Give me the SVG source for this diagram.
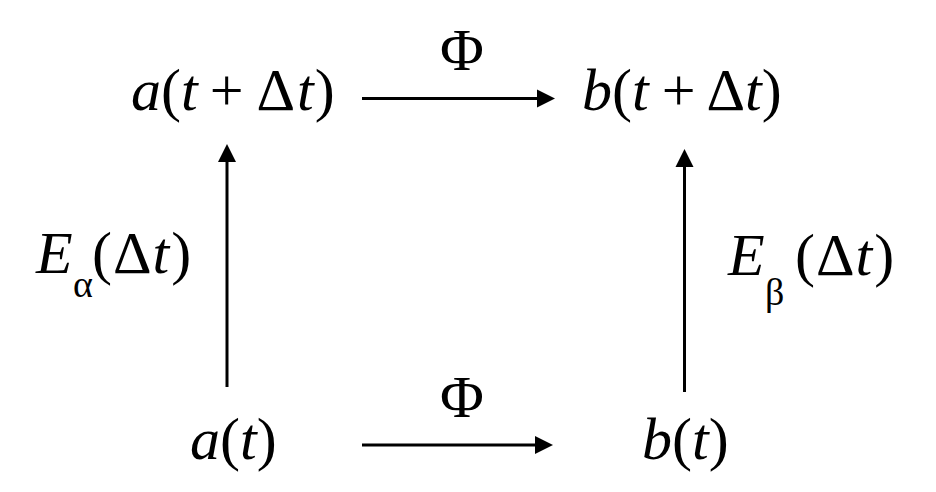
<svg xmlns="http://www.w3.org/2000/svg" width="936" height="492" viewBox="0 0 936 492">
<defs>
  <marker id="ah" markerUnits="userSpaceOnUse" markerWidth="20" markerHeight="20" refX="0" refY="9" orient="auto" viewBox="0 0 20 18">
    <path d="M0,0 L18,9 L0,18 z" fill="#000"/>
  </marker>
</defs>
<rect width="936" height="492" fill="#fff"/>
<g id="connectors" stroke="#000" stroke-width="3" fill="none">
  <line x1="362" y1="98.5" x2="537" y2="98.5" marker-end="url(#ah)"/>
  <line x1="362" y1="445" x2="535" y2="445" marker-end="url(#ah)"/>
  <line x1="227" y1="387" x2="227" y2="162" marker-end="url(#ah)"/>
  <line x1="684.5" y1="392" x2="684.5" y2="167" marker-end="url(#ah)"/>
</g>
<g id="node-a-tdt">
  <text x="131" y="110" font-family="Liberation Serif" font-size="60" fill="#000"><tspan font-style="italic">a</tspan>(<tspan font-style="italic">t</tspan><tspan dx="12">+</tspan><tspan dx="13">Δ</tspan><tspan dx="2" font-style="italic">t</tspan><tspan dx="1">)</tspan></text>
</g>
<g id="node-b-tdt">
  <text x="582" y="110" font-family="Liberation Serif" font-size="60" fill="#000"><tspan font-style="italic">b</tspan>(<tspan font-style="italic">t</tspan><tspan dx="13">+</tspan><tspan dx="11">Δ</tspan><tspan font-style="italic">t</tspan>)</text>
</g>
<g id="node-a-t">
  <text x="190" y="459" font-family="Liberation Serif" font-size="60" fill="#000"><tspan font-style="italic">a</tspan>(<tspan font-style="italic">t</tspan>)</text>
</g>
<g id="node-b-t">
  <text x="642" y="459" font-family="Liberation Serif" font-size="60" fill="#000"><tspan font-style="italic">b</tspan>(<tspan font-style="italic">t</tspan>)</text>
</g>
<g id="labels">
  <text x="462" y="70" text-anchor="middle" font-family="Liberation Serif" font-size="60" fill="#000">Φ</text>
  <text x="462" y="417" text-anchor="middle" font-family="Liberation Serif" font-size="60" fill="#000">Φ</text>
  <text x="36" y="273" font-family="Liberation Serif" font-size="60" fill="#000"><tspan font-style="italic">E</tspan><tspan font-size="38" x="73" y="297">α</tspan><tspan x="92" y="273">(</tspan><tspan dx="1">Δ</tspan><tspan dx="1" font-style="italic">t</tspan><tspan dx="2">)</tspan></text>
  <text x="728" y="275" font-family="Liberation Serif" font-size="60" fill="#000"><tspan font-style="italic">E</tspan><tspan font-size="38" x="765" y="305">β</tspan><tspan x="795" y="275">(</tspan><tspan dx="1">Δ</tspan><tspan dx="1" font-style="italic">t</tspan><tspan dx="2">)</tspan></text>
</g>
</svg>
